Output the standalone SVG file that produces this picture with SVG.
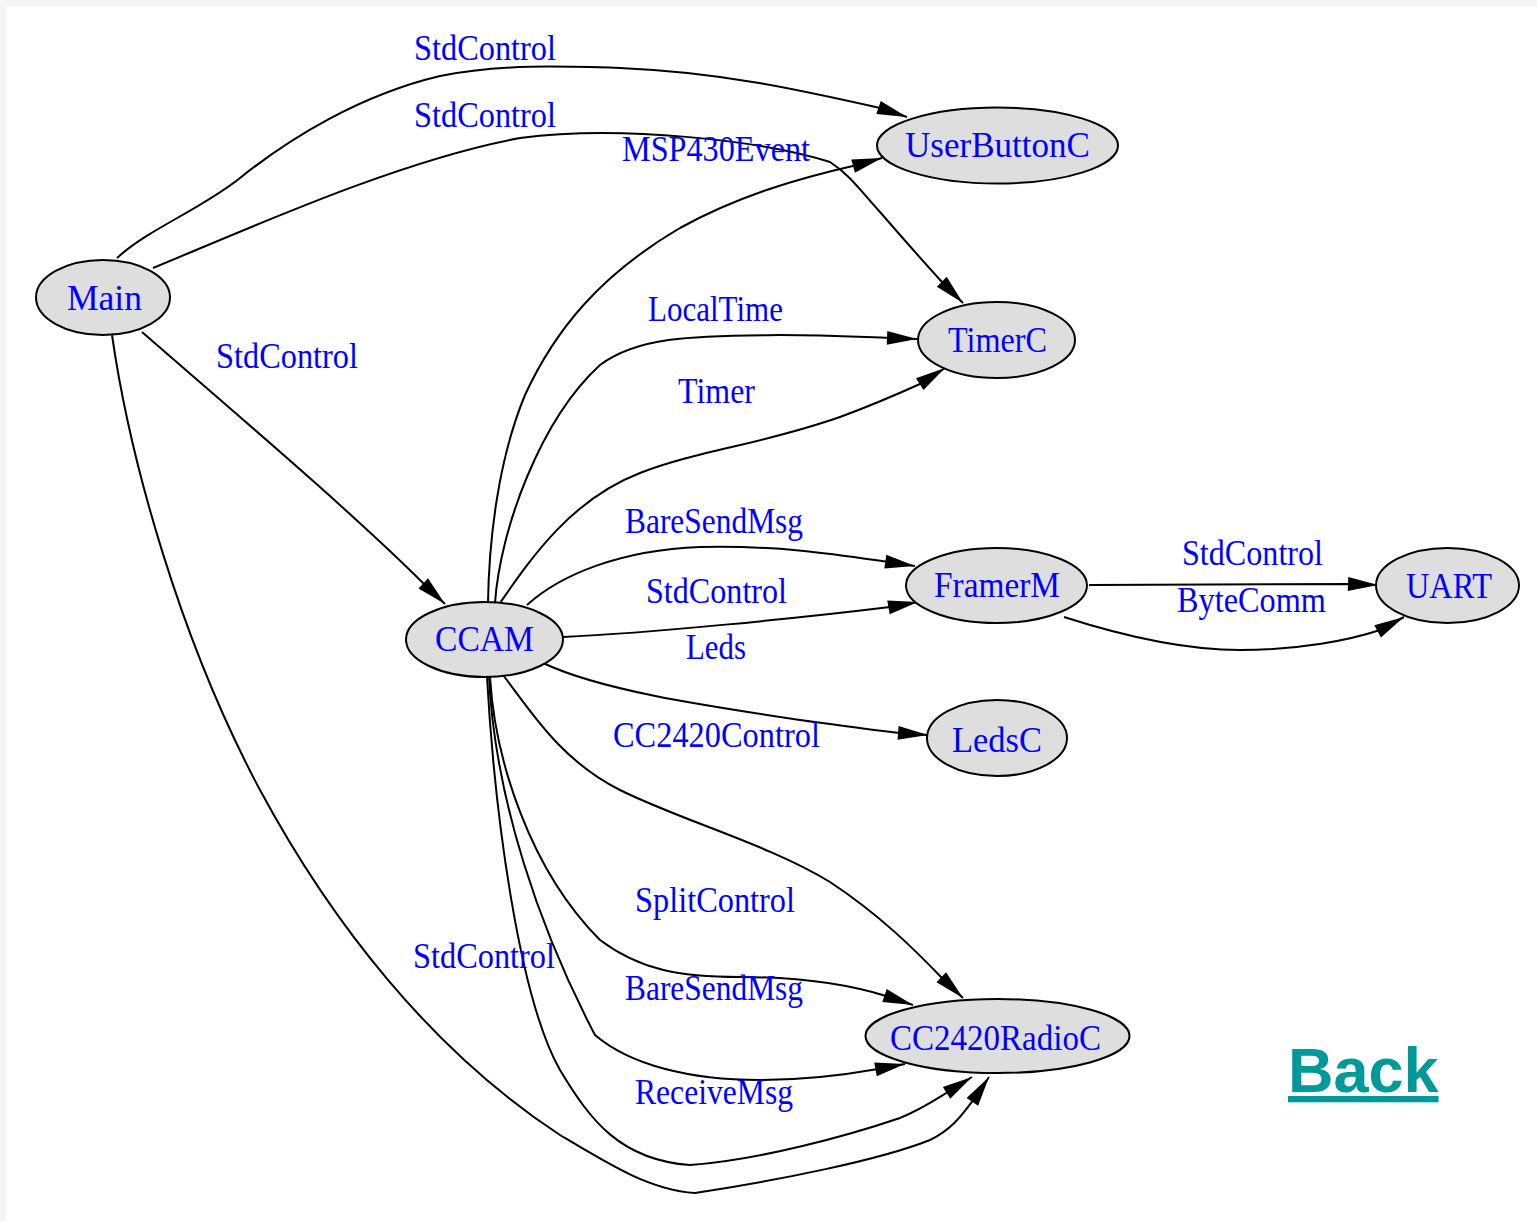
<svg xmlns="http://www.w3.org/2000/svg" width="1537" height="1221" viewBox="0 0 1537 1221">
  <defs>
    <marker id="arr" markerUnits="userSpaceOnUse" markerWidth="30" markerHeight="14" viewBox="0 0 28 13" refX="28" refY="6.5" orient="auto" overflow="visible">
      <path d="M0,0 L28,6.5 L0,13 z" fill="#000"/>
    </marker>
    <style>
      .node ellipse { fill: #dedede; stroke: #000; stroke-width: 2; }
      .lbl { font-family: "Liberation Serif", "Times New Roman", serif; font-size: 36px; fill: #0000ff; }
      .edge { fill: none; stroke: #000; stroke-width: 2; marker-end: url(#arr); }
      .back { font-family: "Liberation Sans", Arial, sans-serif; font-weight: bold; font-size: 63px; fill: #009999; text-decoration: underline; }
    </style>
  </defs>

  <!-- page background -->
  <rect x="0" y="0" width="1537" height="1221" fill="#f5f5f5"/>
  <rect x="6" y="6" width="1531" height="1215" fill="#ffffff"/>

  <!-- connectors with their interface labels -->
  <g id="edges">
    <!-- Main -> UserButtonC -->
    <path class="edge" d="M117,258 C150,228 200,210 240,178 C290,138 360,95 440,76 C500,64 560,66 620,68 C720,72 800,90 880,108 L907,117"/>
    <text class="lbl" x="414" y="60" textLength="142" lengthAdjust="spacingAndGlyphs">StdControl</text>

    <!-- Main -> TimerC -->
    <path class="edge" d="M153,268 C250,228 400,160 520,138 C620,125 760,140 830,162 C850,175 860,190 880,212 C900,235 920,258 942,282 L963,303"/>
    <text class="lbl" x="414" y="127" textLength="142" lengthAdjust="spacingAndGlyphs">StdControl</text>

    <!-- CCAM -> UserButtonC -->
    <path class="edge" d="M488,603 C489,540 498,460 525,395 C555,330 600,275 680,228 C740,195 800,178 857,165 L882,158"/>
    <text class="lbl" x="622" y="161" textLength="188" lengthAdjust="spacingAndGlyphs">MSP430Event</text>

    <!-- Main -> CCAM -->
    <path class="edge" d="M142,332 C220,400 350,510 425,585 L445,604"/>
    <text class="lbl" x="216" y="368" textLength="142" lengthAdjust="spacingAndGlyphs">StdControl</text>

    <!-- CCAM -> TimerC (LocalTime) -->
    <path class="edge" d="M495,603 C500,530 540,420 600,365 C640,335 700,336 780,335 C830,335 860,337 890,338 L917,339"/>
    <text class="lbl" x="648" y="321" textLength="135" lengthAdjust="spacingAndGlyphs">LocalTime</text>

    <!-- CCAM -> TimerC (Timer) -->
    <path class="edge" d="M500,603 C530,560 570,500 640,473 C700,450 760,445 840,417 C870,406 900,393 920,384 L945,368"/>
    <text class="lbl" x="678" y="403" textLength="77" lengthAdjust="spacingAndGlyphs">Timer</text>

    <!-- CCAM -> FramerM (BareSendMsg) -->
    <path class="edge" d="M527,605 C560,575 620,550 700,547 C780,545 840,555 888,562 L915,566"/>
    <text class="lbl" x="625" y="533" textLength="178" lengthAdjust="spacingAndGlyphs">BareSendMsg</text>

    <!-- CCAM -> FramerM (StdControl) -->
    <path class="edge" d="M563,637 C650,633 800,618 890,607 L918,602"/>
    <text class="lbl" x="646" y="603" textLength="141" lengthAdjust="spacingAndGlyphs">StdControl</text>

    <!-- CCAM -> LedsC -->
    <path class="edge" d="M543,663 C600,690 700,705 800,720 C850,727 870,730 900,733 L928,735"/>
    <text class="lbl" x="686" y="659" textLength="60" lengthAdjust="spacingAndGlyphs">Leds</text>

    <!-- FramerM -> UART (StdControl) -->
    <path class="edge" d="M1089,585 L1350,584 L1378,585"/>
    <text class="lbl" x="1182" y="565" textLength="141" lengthAdjust="spacingAndGlyphs">StdControl</text>

    <!-- FramerM -> UART (ByteComm) -->
    <path class="edge" d="M1064,617 C1120,635 1180,650 1240,650 C1300,650 1350,640 1380,630 L1404,617"/>
    <text class="lbl" x="1177" y="612" textLength="149" lengthAdjust="spacingAndGlyphs">ByteComm</text>

    <!-- CCAM -> CC2420RadioC (CC2420Control) -->
    <path class="edge" d="M503,675 C530,710 560,760 620,790 C680,820 770,845 830,882 C880,915 915,950 942,978 L963,998"/>
    <text class="lbl" x="613" y="747" textLength="207" lengthAdjust="spacingAndGlyphs">CC2420Control</text>

    <!-- CCAM -> CC2420RadioC (SplitControl) -->
    <path class="edge" d="M490,677 C495,760 530,870 600,940 C640,970 680,977 740,977 C800,977 850,985 886,996 L913,1005"/>
    <text class="lbl" x="635" y="912" textLength="160" lengthAdjust="spacingAndGlyphs">SplitControl</text>

    <!-- CCAM -> CC2420RadioC (BareSendMsg) -->
    <path class="edge" d="M489,677 C495,800 540,930 595,1035 C630,1065 690,1080 760,1080 C810,1080 850,1074 878,1069 L905,1064"/>
    <text class="lbl" x="625" y="1000" textLength="178" lengthAdjust="spacingAndGlyphs">BareSendMsg</text>

    <!-- CCAM -> CC2420RadioC (ReceiveMsg) -->
    <path class="edge" d="M487,677 C495,820 520,1000 560,1070 C590,1120 620,1160 690,1165 C760,1160 850,1135 900,1118 C920,1110 935,1100 948,1092 L972,1077"/>
    <text class="lbl" x="635" y="1104" textLength="158" lengthAdjust="spacingAndGlyphs">ReceiveMsg</text>

    <!-- Main -> CC2420RadioC -->
    <path class="edge" d="M112,335 C130,460 180,640 260,790 C330,920 430,1050 560,1135 C610,1165 650,1190 695,1193 C780,1180 880,1160 930,1140 C955,1128 965,1110 975,1098 L989,1077"/>
    <text class="lbl" x="413" y="968" textLength="142" lengthAdjust="spacingAndGlyphs">StdControl</text>
  </g>

  <!-- components -->
  <g id="node-Main" class="node">
    <ellipse cx="103" cy="297.5" rx="67" ry="37.5"/>
    <text class="lbl" x="67" y="310" textLength="75" lengthAdjust="spacingAndGlyphs">Main</text>
  </g>
  <g id="node-UserButtonC" class="node">
    <ellipse cx="997.5" cy="145.5" rx="120.5" ry="38"/>
    <text class="lbl" x="905" y="157" textLength="185" lengthAdjust="spacingAndGlyphs">UserButtonC</text>
  </g>
  <g id="node-TimerC" class="node">
    <ellipse cx="996.5" cy="340" rx="78.5" ry="38"/>
    <text class="lbl" x="948" y="352" textLength="99" lengthAdjust="spacingAndGlyphs">TimerC</text>
  </g>
  <g id="node-CCAM" class="node">
    <ellipse cx="484.5" cy="639.5" rx="78.5" ry="37.5"/>
    <text class="lbl" x="435" y="651" textLength="99" lengthAdjust="spacingAndGlyphs">CCAM</text>
  </g>
  <g id="node-FramerM" class="node">
    <ellipse cx="996.5" cy="585.5" rx="90.5" ry="37.5"/>
    <text class="lbl" x="934" y="597" textLength="126" lengthAdjust="spacingAndGlyphs">FramerM</text>
  </g>
  <g id="node-UART" class="node">
    <ellipse cx="1447.5" cy="585.5" rx="71.5" ry="37.5"/>
    <text class="lbl" x="1406" y="598" textLength="86" lengthAdjust="spacingAndGlyphs">UART</text>
  </g>
  <g id="node-LedsC" class="node">
    <ellipse cx="997" cy="738" rx="70" ry="38"/>
    <text class="lbl" x="952" y="752" textLength="90" lengthAdjust="spacingAndGlyphs">LedsC</text>
  </g>
  <g id="node-CC2420RadioC" class="node">
    <ellipse cx="997.5" cy="1036" rx="132" ry="37"/>
    <text class="lbl" x="890" y="1050" textLength="211" lengthAdjust="spacingAndGlyphs">CC2420RadioC</text>
  </g>

  <!-- navigation link -->
  <text class="back" x="1288" y="1092">Back</text>
</svg>
